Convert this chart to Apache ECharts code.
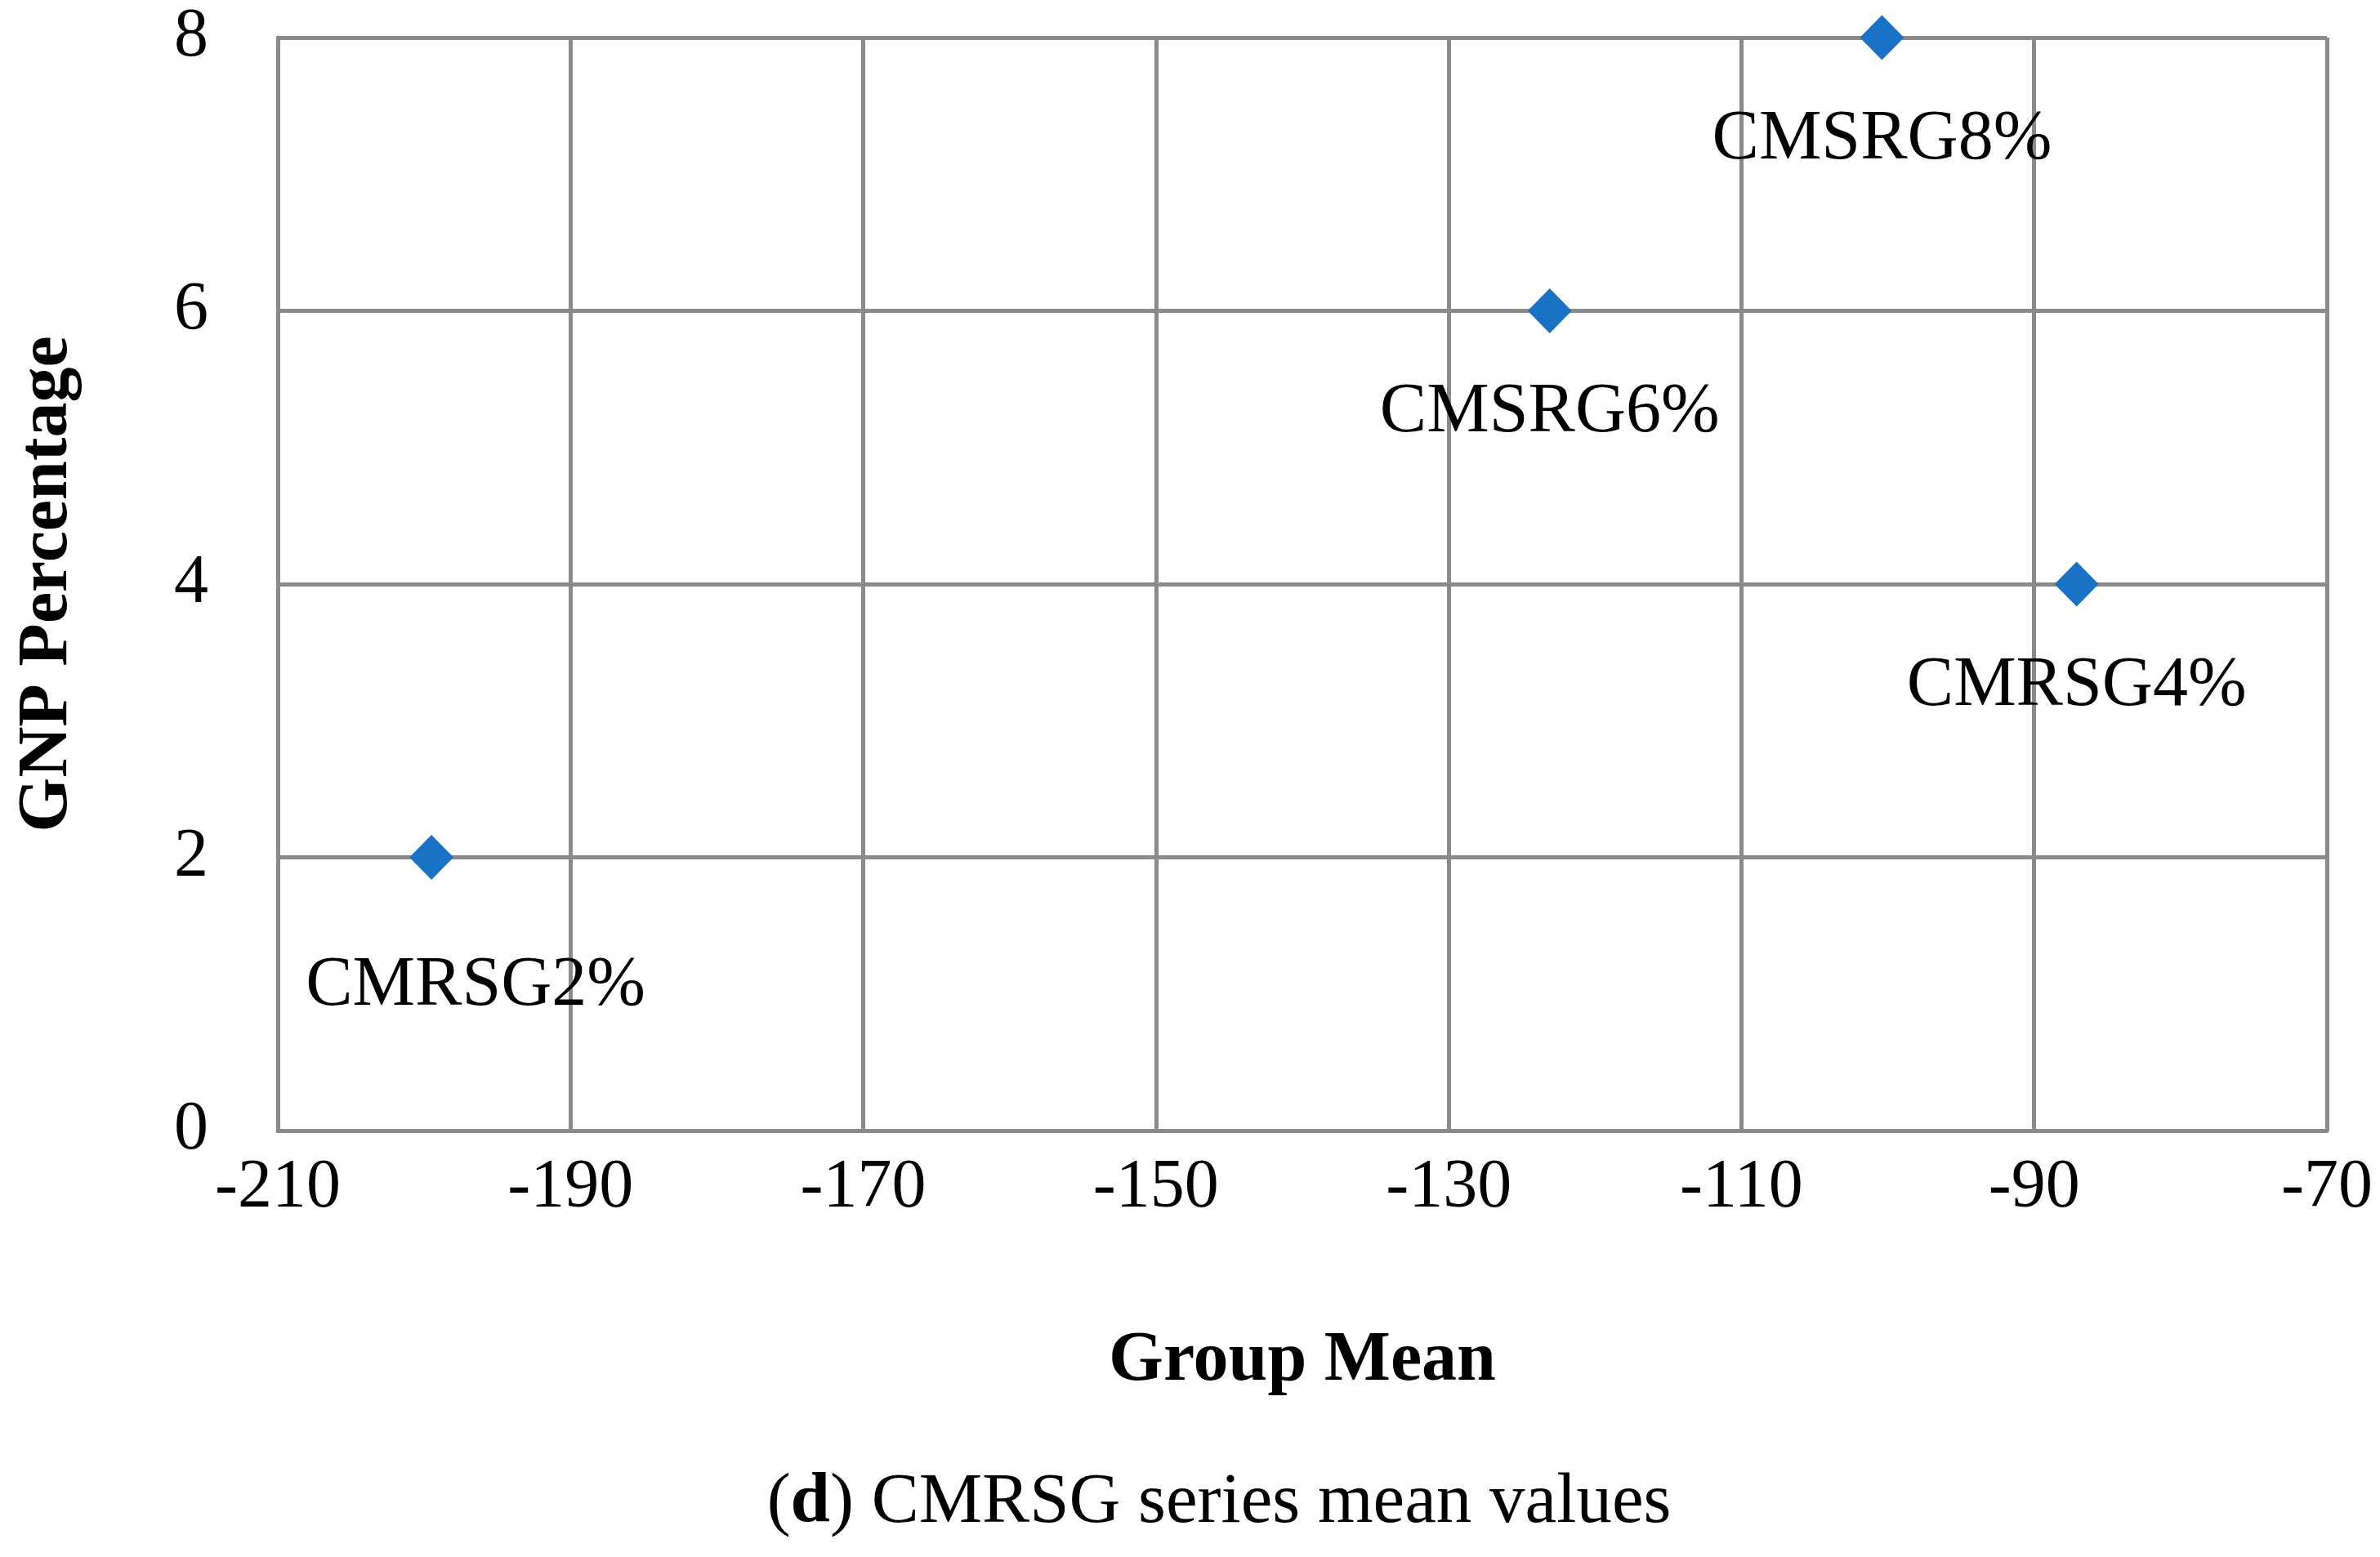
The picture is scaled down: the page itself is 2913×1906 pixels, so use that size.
<!DOCTYPE html>
<html>
<head>
<meta charset="utf-8">
<script src="https://cdn.jsdelivr.net/npm/echarts@6/dist/echarts.min.js"></script>
<style>
html,body{margin:0;padding:0;background:#fff;}
#chart{width:2913px;height:1906px;}
</style>
</head>
<body>
<div id="chart"></div>
<script>
// Data
const pointNames = ['CMRSG2%', 'CMRSG4%', 'CMSRG6%', 'CMSRG8%'];
const groupMean = [-199.5, -87.1, -123.1, -100.4];
const gnpPercentage = [2, 4, 6, 8];
const xTicks = { min: -210, max: -70, interval: 20 };
const yTicks = { min: 0, max: 8, interval: 2 };
const xAxisTitle = 'Group Mean';
const yAxisTitle = 'GNP Percentage';
const captionBold = 'd';
const captionRest = ' CMRSG series mean values';

const FONT = '"Liberation Serif", "DejaVu Serif", serif';
const GRAY = '#8a8a8a';

const labelOffsets = {
  'CMRSG2%': [54, 158],
  'CMRSG4%': [0, 125],
  'CMSRG6%': [0, 125],
  'CMSRG8%': [0, 125]
};

const seriesData = pointNames.map((n, i) => ({
  name: n,
  value: [groupMean[i], gnpPercentage[i]],
  label: { offset: labelOffsets[n] }
}));

const chart = echarts.init(document.getElementById('chart'), null, { renderer: 'canvas' });
chart.setOption({
  backgroundColor: '#ffffff',
  animation: false,
  grid: { left: 340, right: 65, top: 46, bottom: 522, containLabel: false },
  xAxis: {
    type: 'value',
    min: xTicks.min, max: xTicks.max, interval: xTicks.interval,
    name: xAxisTitle,
    nameLocation: 'middle',
    nameGap: 240,
    nameTextStyle: { fontFamily: FONT, fontSize: 86, fontWeight: 'bold', color: '#000' },
    axisLine: { show: true, lineStyle: { color: GRAY, width: 5 } },
    axisTick: { show: false },
    axisLabel: { fontFamily: FONT, fontSize: 84, color: '#000', margin: 29 },
    splitLine: { show: true, lineStyle: { color: GRAY, width: 5 } }
  },
  yAxis: {
    type: 'value',
    min: yTicks.min, max: yTicks.max, interval: yTicks.interval,
    name: yAxisTitle,
    nameLocation: 'middle',
    nameGap: 238,
    nameTextStyle: { fontFamily: FONT, fontSize: 86, fontWeight: 'bold', color: '#000' },
    axisLine: { show: true, lineStyle: { color: GRAY, width: 5 } },
    axisTick: { show: false },
    axisLabel: { fontFamily: FONT, fontSize: 84, color: '#000', margin: 85 },
    splitLine: { show: true, lineStyle: { color: GRAY, width: 5 } }
  },
  series: [{
    type: 'scatter',
    symbol: 'diamond',
    symbolSize: [54, 55],
    itemStyle: { color: '#1a72c7', opacity: 1 },
    data: seriesData,
    label: {
      show: true,
      position: 'inside',
      formatter: p => p.name,
      fontFamily: FONT,
      fontSize: 86,
      color: '#000',
      textBorderWidth: 0,
      opacity: 1
    },
    z: 5
  }],
  graphic: [{
    type: 'text',
    x: 1492,
    y: 1840,
    style: {
      text: '({b|' + captionBold + '})' + captionRest,
      rich: { b: { fontWeight: 'bold', fontFamily: FONT, fontSize: 87, fill: '#000' } },
      fontFamily: FONT,
      fontSize: 87,
      fill: '#000',
      align: 'center',
      verticalAlign: 'middle'
    }
  }]
});
</script>
</body>
</html>
